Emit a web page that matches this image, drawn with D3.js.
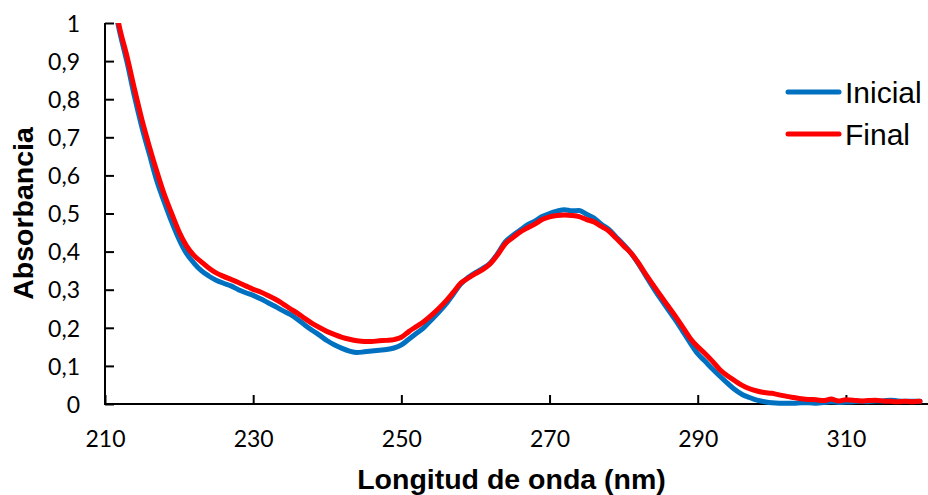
<!DOCTYPE html>
<html>
<head>
<meta charset="utf-8">
<script src="https://cdn.jsdelivr.net/npm/d3@7"></script>
<style>
  html, body { margin: 0; padding: 0; background: #fff; }
  svg { display: block; }
</style>
</head>
<body>
<svg id="chart" width="928" height="495"></svg>
<script>
// ---- Data ----
const wavelengths = d3.range(211, 321); // 211 .. 320 nm, 1 nm steps

const inicial = [
  1.07, 0.975, 0.895, 0.805, 0.725, 0.655, 0.585, 0.530, 0.478, 0.432,   // 211-220
  0.395, 0.370, 0.350, 0.336, 0.325, 0.317, 0.310, 0.300, 0.292, 0.285,  // 221-230
  0.276, 0.266, 0.256, 0.245, 0.235, 0.222, 0.207, 0.193, 0.180, 0.166,  // 231-240
  0.155, 0.146, 0.139, 0.135, 0.137, 0.139, 0.141, 0.143, 0.147, 0.155,  // 241-250
  0.170, 0.185, 0.200, 0.220, 0.240, 0.262, 0.288, 0.315, 0.332, 0.345,  // 251-260
  0.356, 0.370, 0.395, 0.425, 0.442, 0.456, 0.470, 0.480, 0.492, 0.500,  // 261-270
  0.506, 0.510, 0.507, 0.508, 0.498, 0.488, 0.472, 0.458, 0.438, 0.418,  // 271-280
  0.396, 0.368, 0.336, 0.305, 0.276, 0.248, 0.220, 0.190, 0.160, 0.132,  // 281-290
  0.112, 0.092, 0.073, 0.055, 0.038, 0.025, 0.017, 0.010, 0.006, 0.003,  // 291-300
  0.002, 0.002, 0.002, 0.003, 0.003, 0.002, 0.004, 0.006, 0.004, 0.005,  // 301-310
  0.006, 0.007, 0.006, 0.008, 0.008, 0.010, 0.008, 0.007, 0.007, 0.007   // 311-320
];

const final = [
  1.08, 0.985, 0.910, 0.825, 0.745, 0.675, 0.610, 0.550, 0.500, 0.452,  // 211-220
  0.415, 0.390, 0.373, 0.357, 0.344, 0.335, 0.327, 0.319, 0.310, 0.301,  // 221-230
  0.294, 0.285, 0.275, 0.263, 0.250, 0.238, 0.224, 0.211, 0.200, 0.190,  // 231-240
  0.182, 0.175, 0.170, 0.166, 0.164, 0.164, 0.166, 0.167, 0.169, 0.175,  // 241-250
  0.190, 0.203, 0.216, 0.232, 0.250, 0.270, 0.293, 0.317, 0.330, 0.342,  // 251-260
  0.353, 0.368, 0.392, 0.420, 0.436, 0.451, 0.462, 0.472, 0.484, 0.491,  // 261-270
  0.495, 0.496, 0.495, 0.492, 0.484, 0.478, 0.466, 0.454, 0.435, 0.415,  // 271-280
  0.396, 0.370, 0.340, 0.312, 0.284, 0.257, 0.230, 0.201, 0.172, 0.150,  // 281-290
  0.132, 0.112, 0.090, 0.074, 0.061, 0.049, 0.040, 0.034, 0.030, 0.028,  // 291-300
  0.024, 0.020, 0.017, 0.014, 0.012, 0.011, 0.009, 0.013, 0.008, 0.011,  // 301-310
  0.010, 0.008, 0.009, 0.010, 0.008, 0.007, 0.006, 0.007, 0.006, 0.007   // 311-320
];

const xTicks = [210, 230, 250, 270, 290, 310];
const yTicks = [0, 0.1, 0.2, 0.3, 0.4, 0.5, 0.6, 0.7, 0.8, 0.9, 1];
const seriesNames = ["Inicial", "Final"];
const seriesColors = ["#0070C0", "#FF0000"];
const xTitle = "Longitud de onda (nm)";
const yTitle = "Absorbancia";

// ---- Layout ----
const svg = d3.select("#chart");
const plot = { left: 105, right: 920, top: 23, bottom: 404 };

const x = d3.scaleLinear().domain([210, 320]).range([plot.left, plot.right]);
const y = d3.scaleLinear().domain([0, 1]).range([plot.bottom, plot.top]);

const tickFont = "Lato, 'Open Sans', sans-serif";
const titleFont = "'Liberation Sans', Arial, sans-serif";

// clip only the top (curve starts above 1)
svg.append("defs").append("clipPath").attr("id", "clip")
  .append("rect")
  .attr("x", plot.left).attr("y", plot.top)
  .attr("width", plot.right - plot.left + 10)
  .attr("height", plot.bottom - plot.top + 20);

// Y axis
const yAxis = d3.axisRight(y)
  .tickValues(yTicks)
  .tickSize(9)
  .tickFormat(d => d3.format(".1~f")(d).replace(".", ","));
const gy = svg.append("g").attr("transform", `translate(${plot.left},0)`).call(yAxis);
gy.select(".domain").remove();
gy.selectAll(".tick line").attr("stroke", "#000").attr("stroke-width", 2);
gy.selectAll(".tick text")
  .attr("x", -25)
  .attr("text-anchor", "end")
  .attr("dy", "0.36em")
  .style("font-family", tickFont)
  .style("font-size", "23px")
  .attr("fill", "#000");

// X axis
const xAxis = d3.axisTop(x)
  .tickValues(xTicks)
  .tickSize(9)
  .tickFormat(d3.format("d"));
const gx = svg.append("g").attr("transform", `translate(0,${plot.bottom})`).call(xAxis);
gx.select(".domain").remove();
gx.selectAll(".tick line").attr("stroke", "#000").attr("stroke-width", 2);
gx.selectAll(".tick text")
  .attr("y", 43)
  .attr("dy", 0)
  .style("font-family", tickFont)
  .style("font-size", "23px")
  .attr("fill", "#000");

// axis lines
svg.append("line")
  .attr("x1", plot.left).attr("x2", plot.right + 8)
  .attr("y1", plot.bottom).attr("y2", plot.bottom)
  .attr("stroke", "#000").attr("stroke-width", 2);
svg.append("line")
  .attr("x1", plot.left).attr("x2", plot.left)
  .attr("y1", plot.top).attr("y2", plot.bottom + 1)
  .attr("stroke", "#000").attr("stroke-width", 2);

// Lines
const line = d3.line()
  .x((d, i) => x(wavelengths[i]))
  .y(d => y(d))
  .curve(d3.curveMonotoneX);

const gLines = svg.append("g").attr("clip-path", "url(#clip)");
[inicial, final].forEach((vals, k) => {
  gLines.append("path")
    .datum(vals)
    .attr("d", line)
    .attr("fill", "none")
    .attr("stroke", seriesColors[k])
    .attr("stroke-width", 5)
    .attr("stroke-linejoin", "round")
    .attr("stroke-linecap", "round");
});

// Axis titles
svg.append("text")
  .attr("x", 511.5).attr("y", 489)
  .attr("text-anchor", "middle")
  .style("font-family", titleFont)
  .style("font-weight", "bold")
  .style("font-size", "28.5px")
  .text(xTitle);

svg.append("text")
  .attr("transform", "translate(33,213.5) rotate(-90)")
  .attr("text-anchor", "middle")
  .style("font-family", titleFont)
  .style("font-weight", "bold")
  .style("font-size", "28.5px")
  .text(yTitle);

// Legend
const legend = svg.append("g");
seriesNames.forEach((name, k) => {
  const ly = 92 + k * 42;
  legend.append("line")
    .attr("x1", 788).attr("x2", 839)
    .attr("y1", ly).attr("y2", ly)
    .attr("stroke", seriesColors[k])
    .attr("stroke-width", 5)
    .attr("stroke-linecap", "round");
  legend.append("text")
    .attr("x", 845).attr("y", ly + 11)
    .style("font-family", "'Liberation Sans', Arial, sans-serif")
    .style("font-size", "30px")
    .attr("fill", "#000")
    .text(name);
});
</script>
</body>
</html>
